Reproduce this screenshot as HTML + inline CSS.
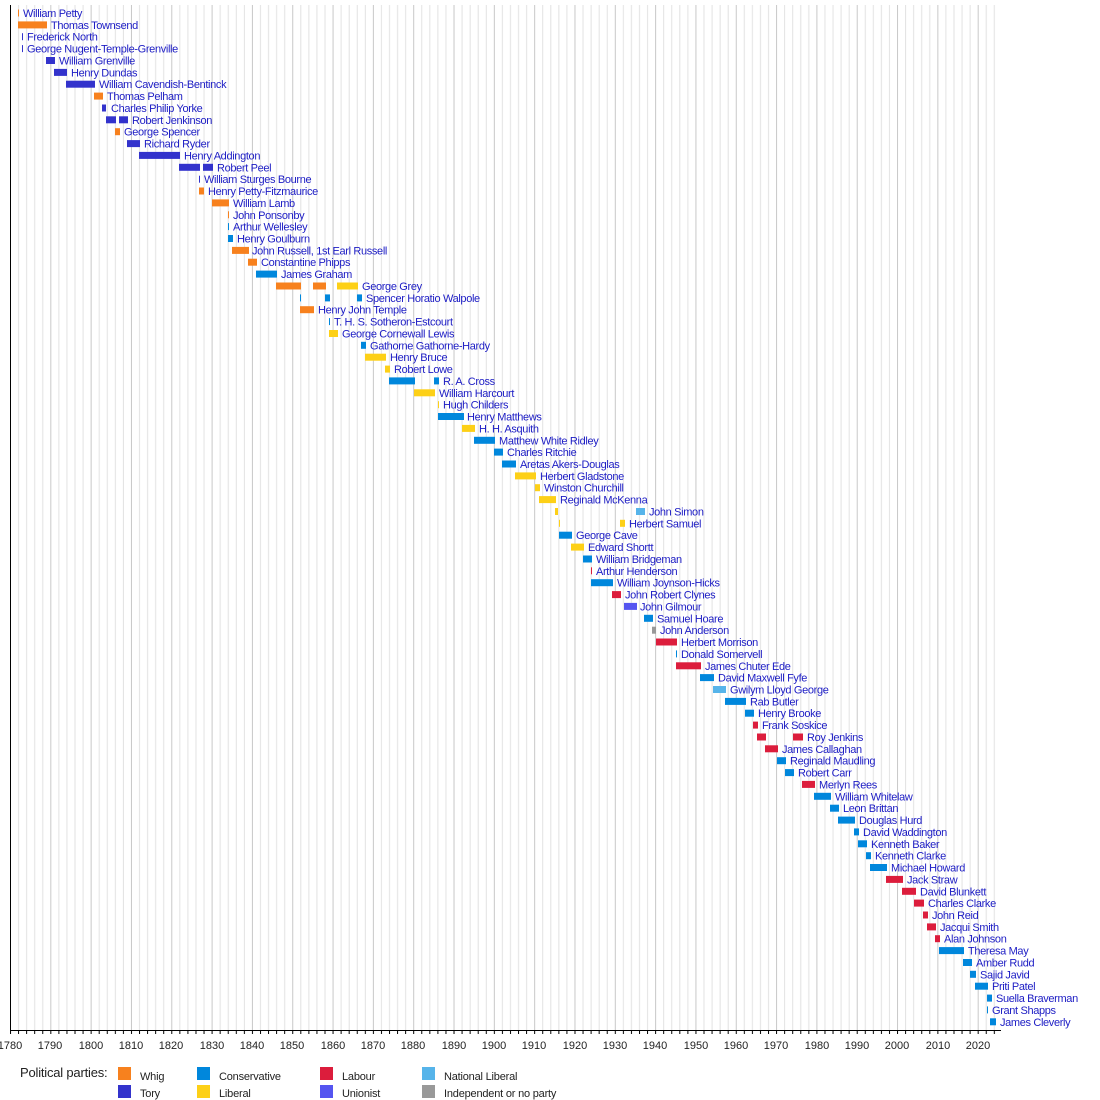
<!DOCTYPE html>
<html><head><meta charset="utf-8"><style>
html,body{margin:0;padding:0;background:#fff}
svg{display:block}
text{font-family:"Liberation Sans",Arial,sans-serif}
.n text{font-size:11px;fill:#1c1cc4;letter-spacing:-0.35px}
.ax text{font-size:11px;fill:#222;text-anchor:middle}
.lg text{font-size:11px;fill:#222;letter-spacing:-0.2px}
</style></head><body>
<svg width="1100" height="1100" viewBox="0 0 1100 1100" xmlns="http://www.w3.org/2000/svg">
<defs>
<pattern id="g" x="10" y="0" width="40.32" height="1100" patternUnits="userSpaceOnUse">
<rect x="0" y="0" width="1" height="1100" fill="#c8c8c8"/>
<rect x="8.06" y="0" width="1" height="1100" fill="#e2e2e2"/>
<rect x="16.13" y="0" width="1" height="1100" fill="#e2e2e2"/>
<rect x="24.19" y="0" width="1" height="1100" fill="#e2e2e2"/>
<rect x="32.26" y="0" width="1" height="1100" fill="#e2e2e2"/>
</pattern>
<pattern id="t" x="10" y="0" width="8.064" height="10" patternUnits="userSpaceOnUse">
<rect x="0" y="0" width="1" height="10" fill="#000"/>
</pattern>
</defs>
<rect x="10" y="5" width="986" height="1025" fill="url(#g)"/>
<rect x="10" y="1030" width="987" height="4" fill="url(#t)"/>
<rect x="10" y="5" width="1" height="1026" fill="#000"/>
<rect x="10" y="1030" width="991" height="1" fill="#000"/>
<g class="ax">
<text x="10" y="1049">1780</text><text x="50" y="1049">1790</text><text x="91" y="1049">1800</text><text x="131" y="1049">1810</text><text x="171" y="1049">1820</text><text x="212" y="1049">1830</text><text x="252" y="1049">1840</text><text x="292" y="1049">1850</text><text x="333" y="1049">1860</text><text x="373" y="1049">1870</text><text x="413" y="1049">1880</text><text x="454" y="1049">1890</text><text x="494" y="1049">1900</text><text x="534" y="1049">1910</text><text x="575" y="1049">1920</text><text x="615" y="1049">1930</text><text x="655" y="1049">1940</text><text x="696" y="1049">1950</text><text x="736" y="1049">1960</text><text x="776" y="1049">1970</text><text x="817" y="1049">1980</text><text x="857" y="1049">1990</text><text x="897" y="1049">2000</text><text x="938" y="1049">2010</text><text x="978" y="1049">2020</text>
</g>
<g id="bars">
<rect x="18" y="9.5" width="1" height="7" fill="#f7811e"/>
<rect x="18" y="21.4" width="29" height="7" fill="#f7811e"/>
<rect x="22" y="33.2" width="1" height="7" fill="#3333cc"/>
<rect x="22" y="45.1" width="1" height="7" fill="#3333cc"/>
<rect x="46" y="57" width="9" height="7" fill="#3333cc"/>
<rect x="54" y="68.9" width="13" height="7" fill="#3333cc"/>
<rect x="66" y="80.7" width="29" height="7" fill="#3333cc"/>
<rect x="94" y="92.6" width="9" height="7" fill="#f7811e"/>
<rect x="102" y="104.5" width="4" height="7" fill="#3333cc"/>
<rect x="106" y="116.3" width="10" height="7" fill="#3333cc"/>
<rect x="119" y="116.3" width="9" height="7" fill="#3333cc"/>
<rect x="115" y="128.2" width="5" height="7" fill="#f7811e"/>
<rect x="127" y="140.1" width="13" height="7" fill="#3333cc"/>
<rect x="139" y="151.9" width="41" height="7" fill="#3333cc"/>
<rect x="179" y="163.8" width="21" height="7" fill="#3333cc"/>
<rect x="203" y="163.8" width="10" height="7" fill="#3333cc"/>
<rect x="199" y="175.7" width="1" height="7" fill="#3333cc"/>
<rect x="199" y="187.5" width="5" height="7" fill="#f7811e"/>
<rect x="212" y="199.4" width="17" height="7" fill="#f7811e"/>
<rect x="228" y="211.3" width="1" height="7" fill="#f7811e"/>
<rect x="228" y="223.1" width="1" height="7" fill="#0087dc"/>
<rect x="228" y="235" width="5" height="7" fill="#0087dc"/>
<rect x="232" y="246.9" width="17" height="7" fill="#f7811e"/>
<rect x="248" y="258.7" width="9" height="7" fill="#f7811e"/>
<rect x="256" y="270.6" width="21" height="7" fill="#0087dc"/>
<rect x="276" y="282.5" width="25" height="7" fill="#f7811e"/>
<rect x="313" y="282.5" width="13" height="7" fill="#f7811e"/>
<rect x="337" y="282.5" width="21" height="7" fill="#fdd017"/>
<rect x="300" y="294.4" width="1" height="7" fill="#0087dc"/>
<rect x="325" y="294.4" width="5" height="7" fill="#0087dc"/>
<rect x="357" y="294.4" width="5" height="7" fill="#0087dc"/>
<rect x="300" y="306.2" width="14" height="7" fill="#f7811e"/>
<rect x="329" y="318.1" width="1" height="7" fill="#0087dc"/>
<rect x="329" y="330" width="9" height="7" fill="#fdd017"/>
<rect x="361" y="341.8" width="5" height="7" fill="#0087dc"/>
<rect x="365" y="353.7" width="21" height="7" fill="#fdd017"/>
<rect x="385" y="365.6" width="5" height="7" fill="#fdd017"/>
<rect x="389" y="377.4" width="26" height="7" fill="#0087dc"/>
<rect x="434" y="377.4" width="5" height="7" fill="#0087dc"/>
<rect x="414" y="389.3" width="21" height="7" fill="#fdd017"/>
<rect x="438" y="401.2" width="1" height="7" fill="#fdd017"/>
<rect x="438" y="413" width="26" height="7" fill="#0087dc"/>
<rect x="462" y="424.9" width="13" height="7" fill="#fdd017"/>
<rect x="474" y="436.8" width="21" height="7" fill="#0087dc"/>
<rect x="494" y="448.6" width="9" height="7" fill="#0087dc"/>
<rect x="502" y="460.5" width="14" height="7" fill="#0087dc"/>
<rect x="515" y="472.4" width="21" height="7" fill="#fdd017"/>
<rect x="535" y="484.2" width="5" height="7" fill="#fdd017"/>
<rect x="539" y="496.1" width="17" height="7" fill="#fdd017"/>
<rect x="555" y="508" width="3" height="7" fill="#fdd017"/>
<rect x="636" y="508" width="9" height="7" fill="#56b4ea"/>
<rect x="559" y="519.8" width="1" height="7" fill="#fdd017"/>
<rect x="620" y="519.8" width="5" height="7" fill="#fdd017"/>
<rect x="559" y="531.7" width="13" height="7" fill="#0087dc"/>
<rect x="571" y="543.6" width="13" height="7" fill="#fdd017"/>
<rect x="583" y="555.5" width="9" height="7" fill="#0087dc"/>
<rect x="591" y="567.3" width="1" height="7" fill="#dc1d3c"/>
<rect x="591" y="579.2" width="22" height="7" fill="#0087dc"/>
<rect x="612" y="591.1" width="9" height="7" fill="#dc1d3c"/>
<rect x="624" y="602.9" width="13" height="7" fill="#5555f0"/>
<rect x="644" y="614.8" width="9" height="7" fill="#0087dc"/>
<rect x="652" y="626.7" width="4" height="7" fill="#999999"/>
<rect x="656" y="638.5" width="21" height="7" fill="#dc1d3c"/>
<rect x="676" y="650.4" width="1" height="7" fill="#0087dc"/>
<rect x="676" y="662.3" width="25" height="7" fill="#dc1d3c"/>
<rect x="700" y="674.1" width="14" height="7" fill="#0087dc"/>
<rect x="713" y="686" width="13" height="7" fill="#56b4ea"/>
<rect x="725" y="697.9" width="21" height="7" fill="#0087dc"/>
<rect x="745" y="709.7" width="9" height="7" fill="#0087dc"/>
<rect x="753" y="721.6" width="5" height="7" fill="#dc1d3c"/>
<rect x="757" y="733.5" width="9" height="7" fill="#dc1d3c"/>
<rect x="793" y="733.5" width="10" height="7" fill="#dc1d3c"/>
<rect x="765" y="745.3" width="13" height="7" fill="#dc1d3c"/>
<rect x="777" y="757.2" width="9" height="7" fill="#0087dc"/>
<rect x="785" y="769.1" width="9" height="7" fill="#0087dc"/>
<rect x="802" y="780.9" width="13" height="7" fill="#dc1d3c"/>
<rect x="814" y="792.8" width="17" height="7" fill="#0087dc"/>
<rect x="830" y="804.7" width="9" height="7" fill="#0087dc"/>
<rect x="838" y="816.6" width="17" height="7" fill="#0087dc"/>
<rect x="854" y="828.4" width="5" height="7" fill="#0087dc"/>
<rect x="858" y="840.3" width="9" height="7" fill="#0087dc"/>
<rect x="866" y="852.2" width="5" height="7" fill="#0087dc"/>
<rect x="870" y="864" width="17" height="7" fill="#0087dc"/>
<rect x="886" y="875.9" width="17" height="7" fill="#dc1d3c"/>
<rect x="902" y="887.8" width="14" height="7" fill="#dc1d3c"/>
<rect x="914" y="899.6" width="10" height="7" fill="#dc1d3c"/>
<rect x="923" y="911.5" width="5" height="7" fill="#dc1d3c"/>
<rect x="927" y="923.4" width="9" height="7" fill="#dc1d3c"/>
<rect x="935" y="935.2" width="5" height="7" fill="#dc1d3c"/>
<rect x="939" y="947.1" width="25" height="7" fill="#0087dc"/>
<rect x="963" y="959" width="9" height="7" fill="#0087dc"/>
<rect x="970" y="970.8" width="6" height="7" fill="#0087dc"/>
<rect x="975" y="982.7" width="13" height="7" fill="#0087dc"/>
<rect x="987" y="994.6" width="5" height="7" fill="#0087dc"/>
<rect x="987" y="1006.4" width="1" height="7" fill="#0087dc"/>
<rect x="990" y="1018.3" width="6" height="7" fill="#0087dc"/>
</g>
<g class="n">
<text x="23" y="17">William Petty</text>
<text x="51" y="28.9">Thomas Townsend</text>
<text x="27" y="40.7">Frederick North</text>
<text x="27" y="52.6">George Nugent-Temple-Grenville</text>
<text x="59" y="64.5">William Grenville</text>
<text x="71" y="76.4">Henry Dundas</text>
<text x="99" y="88.2">William Cavendish-Bentinck</text>
<text x="107" y="100.1">Thomas Pelham</text>
<text x="111" y="112">Charles Philip Yorke</text>
<text x="132" y="123.8">Robert Jenkinson</text>
<text x="124" y="135.7">George Spencer</text>
<text x="144" y="147.6">Richard Ryder</text>
<text x="184" y="159.4">Henry Addington</text>
<text x="217" y="171.3">Robert Peel</text>
<text x="204" y="183.2">William Sturges Bourne</text>
<text x="208" y="195">Henry Petty-Fitzmaurice</text>
<text x="233" y="206.9">William Lamb</text>
<text x="233" y="218.8">John Ponsonby</text>
<text x="233" y="230.6">Arthur Wellesley</text>
<text x="237" y="242.5">Henry Goulburn</text>
<text x="252" y="254.4">John Russell, 1st Earl Russell</text>
<text x="261" y="266.2">Constantine Phipps</text>
<text x="281" y="278.1">James Graham</text>
<text x="362" y="290">George Grey</text>
<text x="366" y="301.9">Spencer Horatio Walpole</text>
<text x="318" y="313.7">Henry John Temple</text>
<text x="334" y="325.6">T. H. S. Sotheron-Estcourt</text>
<text x="342" y="337.5">George Cornewall Lewis</text>
<text x="370" y="349.3">Gathorne Gathorne-Hardy</text>
<text x="390" y="361.2">Henry Bruce</text>
<text x="394" y="373.1">Robert Lowe</text>
<text x="443" y="384.9">R. A. Cross</text>
<text x="439" y="396.8">William Harcourt</text>
<text x="443" y="408.7">Hugh Childers</text>
<text x="467" y="420.5">Henry Matthews</text>
<text x="479" y="432.4">H. H. Asquith</text>
<text x="499" y="444.3">Matthew White Ridley</text>
<text x="507" y="456.1">Charles Ritchie</text>
<text x="520" y="468">Aretas Akers-Douglas</text>
<text x="540" y="479.9">Herbert Gladstone</text>
<text x="544" y="491.7">Winston Churchill</text>
<text x="560" y="503.6">Reginald McKenna</text>
<text x="649" y="515.5">John Simon</text>
<text x="629" y="527.3">Herbert Samuel</text>
<text x="576" y="539.2">George Cave</text>
<text x="588" y="551.1">Edward Shortt</text>
<text x="596" y="563">William Bridgeman</text>
<text x="596" y="574.8">Arthur Henderson</text>
<text x="617" y="586.7">William Joynson-Hicks</text>
<text x="625" y="598.6">John Robert Clynes</text>
<text x="640" y="610.4">John Gilmour</text>
<text x="657" y="622.3">Samuel Hoare</text>
<text x="660" y="634.2">John Anderson</text>
<text x="681" y="646">Herbert Morrison</text>
<text x="681" y="657.9">Donald Somervell</text>
<text x="705" y="669.8">James Chuter Ede</text>
<text x="718" y="681.6">David Maxwell Fyfe</text>
<text x="730" y="693.5">Gwilym Lloyd George</text>
<text x="750" y="705.4">Rab Butler</text>
<text x="758" y="717.2">Henry Brooke</text>
<text x="762" y="729.1">Frank Soskice</text>
<text x="807" y="741">Roy Jenkins</text>
<text x="782" y="752.8">James Callaghan</text>
<text x="790" y="764.7">Reginald Maudling</text>
<text x="798" y="776.6">Robert Carr</text>
<text x="819" y="788.4">Merlyn Rees</text>
<text x="835" y="800.3">William Whitelaw</text>
<text x="843" y="812.2">Leon Brittan</text>
<text x="859" y="824.1">Douglas Hurd</text>
<text x="863" y="835.9">David Waddington</text>
<text x="871" y="847.8">Kenneth Baker</text>
<text x="875" y="859.7">Kenneth Clarke</text>
<text x="891" y="871.5">Michael Howard</text>
<text x="907" y="883.4">Jack Straw</text>
<text x="920" y="895.3">David Blunkett</text>
<text x="928" y="907.1">Charles Clarke</text>
<text x="932" y="919">John Reid</text>
<text x="940" y="930.9">Jacqui Smith</text>
<text x="944" y="942.7">Alan Johnson</text>
<text x="968" y="954.6">Theresa May</text>
<text x="976" y="966.5">Amber Rudd</text>
<text x="980" y="978.3">Sajid Javid</text>
<text x="992" y="990.2">Priti Patel</text>
<text x="996" y="1002.1">Suella Braverman</text>
<text x="992" y="1013.9">Grant Shapps</text>
<text x="1000" y="1025.8">James Cleverly</text>
</g>
<g class="lg">
<text x="20" y="1077" style="font-size:13px">Political parties:</text>
<rect x="118" y="1067" width="13" height="13" fill="#f7811e"/><text x="140" y="1080">Whig</text>
<rect x="118" y="1085" width="13" height="13" fill="#3333cc"/><text x="140" y="1097">Tory</text>
<rect x="197" y="1067" width="13" height="13" fill="#0087dc"/><text x="219" y="1080">Conservative</text>
<rect x="197" y="1085" width="13" height="13" fill="#fdd017"/><text x="219" y="1097">Liberal</text>
<rect x="320" y="1067" width="13" height="13" fill="#dc1d3c"/><text x="342" y="1080">Labour</text>
<rect x="320" y="1085" width="13" height="13" fill="#5555f0"/><text x="342" y="1097">Unionist</text>
<rect x="422" y="1067" width="13" height="13" fill="#56b4ea"/><text x="444" y="1080">National Liberal</text>
<rect x="422" y="1085" width="13" height="13" fill="#999999"/><text x="444" y="1097">Independent or no party</text>
</g>
</svg>
</body></html>
